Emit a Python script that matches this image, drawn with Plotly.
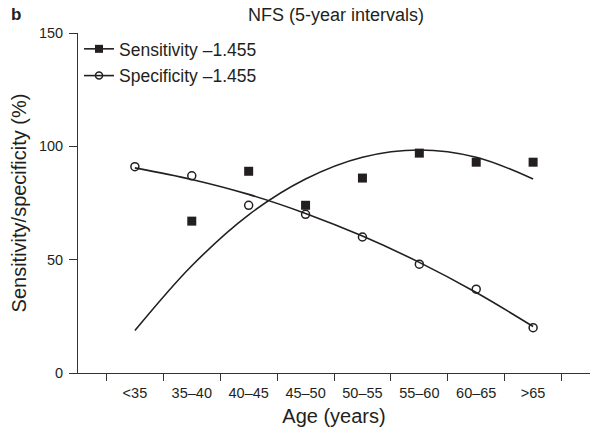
import plotly.graph_objects as go

categories = ["<35", "35–40", "40–45", "45–50", "50–55", "55–60", "60–65", ">65"]

# observed points
sens_cats = ["35–40", "40–45", "45–50", "50–55", "55–60", "60–65", ">65"]
sens_vals = [67, 89, 74, 86, 97, 93, 93]
spec_vals = [91, 87, 74, 70, 60, 48, 37, 20]

# fitted trend curves (at each category)
sens_fit = [18.7, 47.3, 69.8, 85.6, 95.2, 98.4, 95.2, 85.6]
spec_fit = [90.5, 85.4, 78.8, 70.4, 60.4, 48.8, 35.5, 20.5]

legend_labels = ["Sensitivity –1.455", "Specificity –1.455"]

INK = "#231f20"
FONT = "Liberation Sans, Arial, Helvetica, sans-serif"

fig = go.Figure()

# fit lines
fig.add_trace(go.Scatter(x=categories, y=sens_fit, mode="lines",
                         line=dict(color=INK, width=1.6, shape="spline", smoothing=1.0),
                         showlegend=False, hoverinfo="skip"))
fig.add_trace(go.Scatter(x=categories, y=spec_fit, mode="lines",
                         line=dict(color=INK, width=1.6, shape="spline", smoothing=1.0),
                         showlegend=False, hoverinfo="skip"))
# markers
fig.add_trace(go.Scatter(x=sens_cats, y=sens_vals, mode="markers",
                         marker=dict(symbol="square", size=9, color=INK),
                         showlegend=False))
fig.add_trace(go.Scatter(x=categories, y=spec_vals, mode="markers",
                         marker=dict(symbol="circle-open", size=8, color=INK,
                                     line=dict(width=1.5, color=INK)),
                         showlegend=False))
# legend entries (line + marker)
fig.add_trace(go.Scatter(x=[None], y=[None], mode="lines+markers", name=legend_labels[0],
                         legendgroup="a",
                         line=dict(color=INK, width=1.6),
                         marker=dict(symbol="square", size=8, color=INK)))
fig.add_trace(go.Scatter(x=[None], y=[None], mode="lines+markers", name=legend_labels[1],
                         legendgroup="b",
                         line=dict(color=INK, width=1.6),
                         marker=dict(symbol="circle-open", size=7, color=INK,
                                     line=dict(width=1.5, color=INK))))

fig.update_layout(
    width=590, height=433,
    margin=dict(l=78, r=0, t=33, b=60),
    paper_bgcolor="white", plot_bgcolor="white",
    font=dict(family=FONT, color=INK, size=14.5),
    title=dict(text="NFS (5-year intervals)", x=336 / 590, xanchor="center",
               xref="container", y=1 - 15 / 433, yanchor="middle",
               font=dict(size=18, color=INK, family=FONT)),
    showlegend=True,
    legend=dict(x=0.002, y=1.006, xanchor="left", yanchor="top",
                bgcolor="rgba(0,0,0,0)", borderwidth=0,
                font=dict(size=17.5, color=INK, family=FONT),
                itemwidth=30, traceorder="grouped", tracegroupgap=1),
    xaxis=dict(type="category", categoryorder="array", categoryarray=categories,
               range=[-1, 8], tickson="boundaries",
               showline=True, linecolor="#333333", linewidth=1,
               ticks="outside", ticklen=7, tickwidth=1, tickcolor="#333333",
               showgrid=False, zeroline=False, ticklabelstandoff=7,
               tickfont=dict(size=14.5, color=INK),
               title=dict(text="Age (years)", font=dict(size=20, color=INK), standoff=8)),
    yaxis=dict(range=[0, 150], tickvals=[0, 50, 100, 150],
               showline=True, linecolor="#333333", linewidth=1,
               ticks="outside", ticklen=8, tickwidth=1, tickcolor="#333333",
               showgrid=False, zeroline=False, ticklabelstandoff=3,
               tickfont=dict(size=14.5, color=INK),
               title=dict(text="Sensitivity/specificity (%)", font=dict(size=20, color=INK),
                          standoff=6)),
    annotations=[dict(text="<b>b</b>", xref="paper", yref="paper",
                      x=(9 - 78) / 512, y=1 + 18 / 340, xanchor="left", yanchor="middle",
                      showarrow=False, font=dict(size=17, color=INK, family=FONT))],
)

fig.write_html("out.html")
